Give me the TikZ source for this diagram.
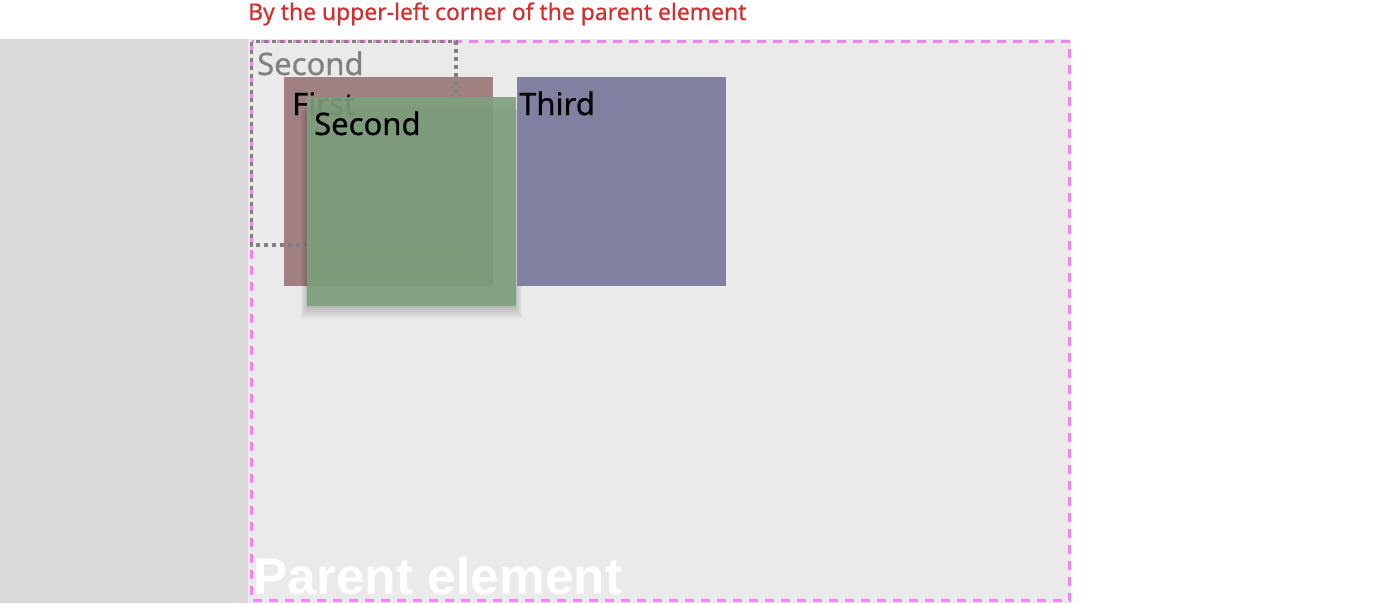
\documentclass[tikz,border=0pt]{standalone}
\usepackage{fontspec}
\setmainfont{Noto Sans}
\newfontfamily\heavyfont{Noto Sans}[FakeBold=0.6]
\newfontfamily\arialfont{Liberation Sans}
\definecolor{leftgray}{RGB}{217,217,217}
\definecolor{parentbg}{RGB}{234,234,234}
\definecolor{pinkdash}{RGB}{248,128,248}
\definecolor{dotgray}{RGB}{128,128,128}
\definecolor{firstc}{RGB}{160,128,128}
\definecolor{thirdc}{RGB}{128,128,160}
\definecolor{secondc}{RGB}{126,160,126}
\definecolor{titlered}{RGB}{210,48,48}
\tikzset{
  boxlabel/.style={anchor=base west,inner sep=0pt,font=\heavyfont\fontsize{31}{31}\selectfont},
}
\begin{document}
\begin{tikzpicture}[x=1pt,y=-1pt]
\useasboundingbox (0,0) rectangle (1400,603);
\fill[white] (0,0) rectangle (1400,603);
% left gray area and parent
\fill[leftgray] (0,39) rectangle (248,603);
\fill[parentbg] (248,39) rectangle (1071,603);
\draw[pinkdash,line width=3.2pt,dash pattern=on 9pt off 7pt] (251.5,41.5) rectangle (1069.5,600.5);
% title
\node[anchor=base west,inner sep=0pt,text=titlered,font=\heavyfont\fontsize{22.9}{23}\selectfont] (title) at (248,20) {By the upper-left corner of the parent element};
% parent label
\node[anchor=base west,inner sep=0pt,text=white,font=\arialfont\bfseries\fontsize{51.5}{52}\selectfont] (parentlbl) at (253,594) {Parent element};
% first box
\fill[firstc] (284,77) rectangle (493,286);
\node[boxlabel] (firstlbl) at (292,115) {First};
% dotted original position of second
\draw[dotgray,line width=3.2pt,dash pattern=on 4pt off 4pt] (251.5,41.5) rectangle (456,245);
\node[boxlabel,text=dotgray] (ghostlbl) at (257,75) {Second};
% shadow of second
\foreach \i in {1,...,14}{
  \fill[black,opacity=0.016] (309-\i*0.6,104+\i*0.5) rectangle (514+\i*0.6,305+\i*1.0);
}
% second box
\fill[secondc,opacity=0.9] (307,97) rectangle (516,306);
\node[boxlabel] (secondlbl) at (314,135) {Second};
% third box
\fill[thirdc] (517,77) rectangle (726,286);
\node[boxlabel] (thirdlbl) at (519,115) {Third};
\end{tikzpicture}
\end{document}
